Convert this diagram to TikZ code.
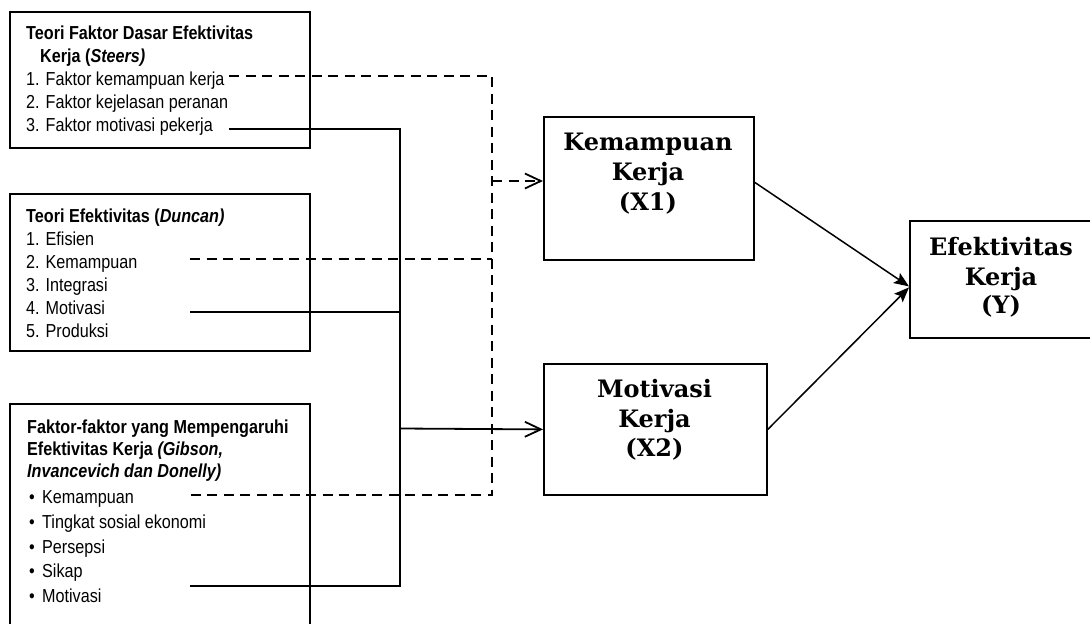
\documentclass[tikz,border=0pt]{standalone}
\usepackage{fontspec}
\usetikzlibrary{arrows.meta}
\newfontfamily\narrowfont{Liberation Sans}[FakeStretch=0.86]
\newfontfamily\slabfont{DejaVu Serif}
\begin{document}
\begin{tikzpicture}[x=1pt,y=-1pt,
  box/.style={draw, line width=1.8pt, anchor=north west, inner sep=0pt},
  lt/.style={anchor=base west, inner sep=0pt, font=\narrowfont\fontsize{18.8}{20}\selectfont},
  rt/.style={anchor=base, inner sep=0pt, font=\slabfont\bfseries\fontsize{24}{26}\selectfont},
  solidline/.style={line width=1.8pt},
  dashline/.style={line width=1.8pt, dash pattern=on 10pt off 6.5pt},
  openarrow/.style={-{Straight Barb[length=16pt,width=15pt,line width=1.8pt]}},
  fillarrow/.style={line width=1.5pt,-{Stealth[length=15pt,width=12pt,inset=3pt]}}
]
\useasboundingbox (0,0) rectangle (1090,624);
\clip (0,0) rectangle (1090,624);

% boxes
\node[box, minimum width=300pt, minimum height=136pt] (b1) at (9,11) {};
\node[box, minimum width=300pt, minimum height=157pt] (b2) at (9,193) {};
\node[box, minimum width=300pt, minimum height=247pt] (b3) at (9,403) {};
\node[box, minimum width=210pt, minimum height=143pt] (kem) at (543,116) {};
\node[box, minimum width=223pt, minimum height=131pt] (mot) at (543,363) {};
\node[box, minimum width=184pt, minimum height=117pt] (eff) at (909,220) {};

% box 1 text
\node[lt] (t11) at (26,39) {\bfseries Teori Faktor Dasar Efektivitas};
\node[lt] (t12) at (40,62) {\bfseries Kerja (\itshape Steers)};
\node[lt] (i11) at (26,85) {1. Faktor kemampuan kerja};
\node[lt] (i12) at (26,108) {2. Faktor kejelasan peranan};
\node[lt] (i13) at (26,131) {3. Faktor motivasi pekerja};

% box 2 text
\node[lt] (t21) at (26,222) {\bfseries Teori Efektivitas (\itshape Duncan)};
\node[lt] (i21) at (26,245) {1. Efisien};
\node[lt] (i22) at (26,268) {2. Kemampuan};
\node[lt] (i23) at (26,291) {3. Integrasi};
\node[lt] (i24) at (26,314) {4. Motivasi};
\node[lt] (i25) at (26,337) {5. Produksi};

% box 3 text
\node[lt] (t31) at (27,433) {\bfseries Faktor-faktor yang Mempengaruhi};
\node[lt] (t32) at (27,455) {\bfseries Efektivitas Kerja \itshape (Gibson,};
\node[lt] (t33) at (27,477) {\bfseries\itshape Invancevich dan Donelly)};
\node[lt] (p31) at (29,503) {\textbullet};
\node[lt] (i31) at (42,503) {Kemampuan};
\node[lt] (p32) at (29,528) {\textbullet};
\node[lt] (i32) at (42,528) {Tingkat sosial ekonomi};
\node[lt] (p33) at (29,553) {\textbullet};
\node[lt] (i33) at (42,553) {Persepsi};
\node[lt] (p34) at (29,577) {\textbullet};
\node[lt] (i34) at (42,577) {Sikap};
\node[lt] (p35) at (29,602) {\textbullet};
\node[lt] (i35) at (42,602) {Motivasi};

% right boxes text
\node[rt] (k1) at (648,150) {Kemampuan};
\node[rt] (k2) at (648,180) {Kerja};
\node[rt] (k3) at (648,210) {(X1)};
\node[rt] (m1) at (654.5,397) {Motivasi};
\node[rt] (m2) at (654.5,427) {Kerja};
\node[rt] (m3) at (654.5,456) {(X2)};
\node[rt] (e1) at (1001,255) {Efektivitas};
\node[rt] (e2) at (1001,285) {Kerja};
\node[rt] (e3) at (1001,313) {(Y)};

% connector coordinates
\coordinate (d1s) at (229,76);
\coordinate (d1c) at (492,76);
\coordinate (d2s) at (190,259);
\coordinate (d2e) at (492,259);
\coordinate (d3s) at (190,495);
\coordinate (d3e) at (492,495);
\coordinate (da) at (492,181);
\coordinate (s1s) at (229,129);
\coordinate (s1c) at (400,129);
\coordinate (s2s) at (190,312);
\coordinate (s2e) at (400,312);
\coordinate (s3s) at (190,586);
\coordinate (s3c) at (400,586);
\coordinate (sa) at (400,428.5);

% dashed connectors
\draw[dashline] (d1s) -- (d1c) -- (d3e) -- (d3s);
\draw[dashline] (d2s) -- (d2e);
\draw[dashline, openarrow] (da) -- (da -| kem.west);

% solid connectors
\draw[solidline] (s1s) -- (s1c) -- (s3c) -- (s3s);
\draw[solidline] (s2s) -- (s2e);
\draw[solidline, openarrow] (sa) -- (mot.west);

% arrows to Y
\draw[fillarrow] ([yshift=6pt]kem.east) -- ([yshift=-7pt]eff.west);
\draw[fillarrow] (mot.east) -- ([yshift=-8pt]eff.west);
\end{tikzpicture}
\end{document}
